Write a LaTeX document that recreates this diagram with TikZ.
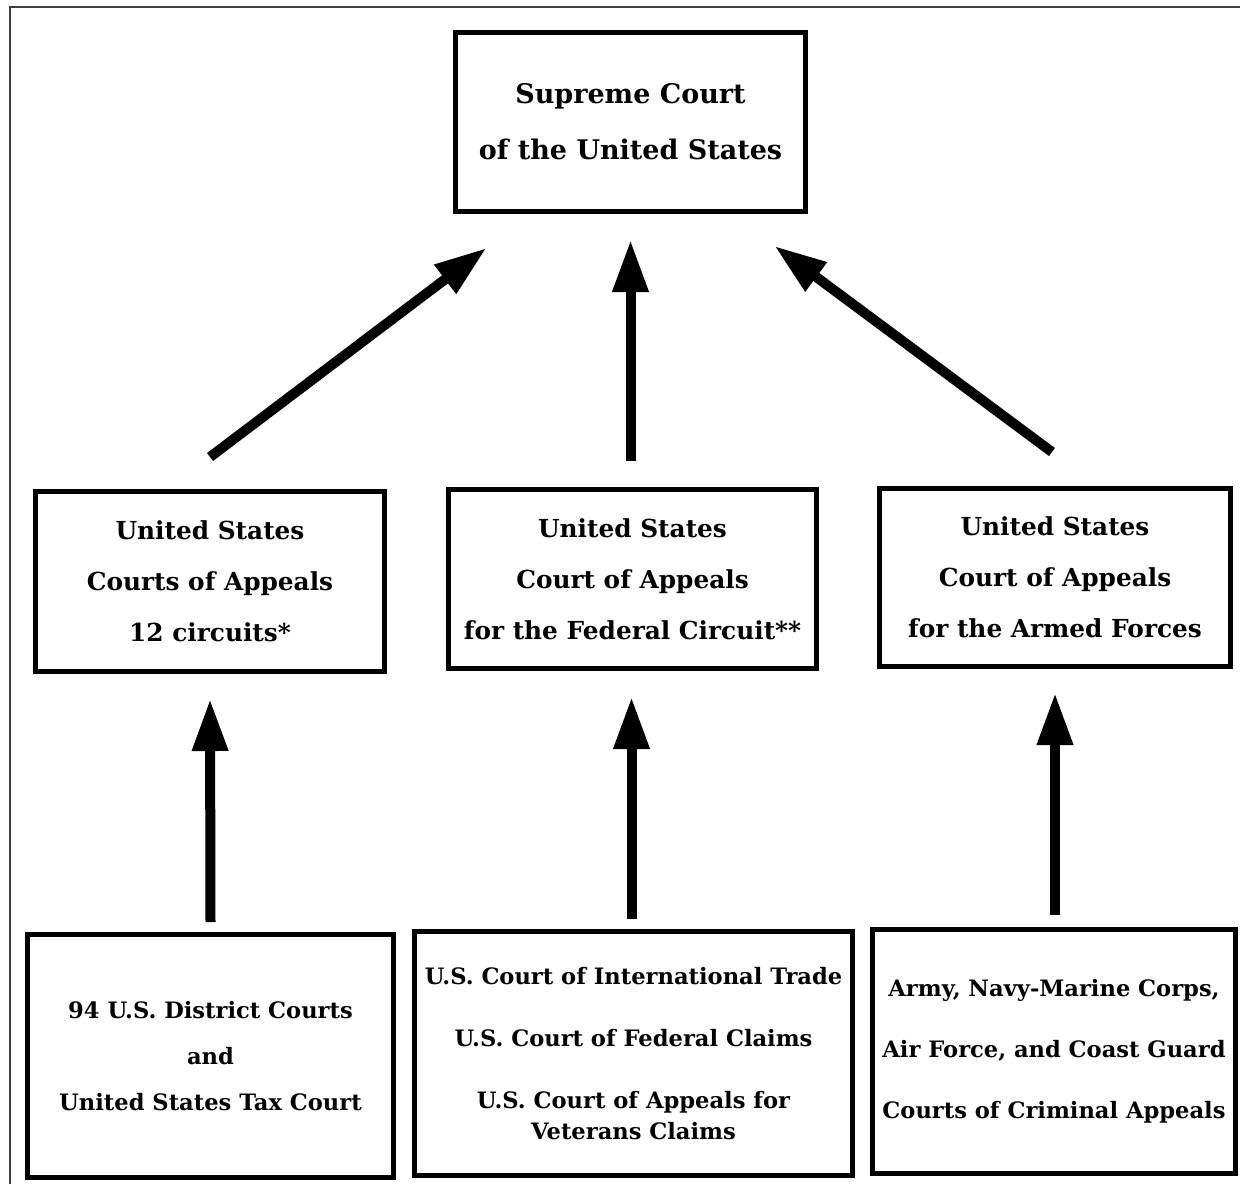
\documentclass[tikz,border=0pt]{standalone}
\usepackage{fontspec}
\setmainfont{DejaVu Serif}
\usetikzlibrary{arrows.meta}
\tikzstyle{arrow} = [line width=5pt,-{Triangle[length=26pt,width=17pt]}]
\tikzstyle{court} = [draw, line width=2.5pt, align=center, inner sep=0pt]

\begin{document}
\begin{tikzpicture}[x=0.5pt, y=-0.5pt]
        \useasboundingbox (0,0) rectangle (1240,1184);
        \draw[line width=0.8pt, black!75] (10,1184) -- (10,7) -- (1240,7);

        % top
        \node at (630.5,122) [court, minimum width=175pt, minimum height=89.5pt, font=\bfseries\fontsize{13.5}{28}\selectfont](supreme) {Supreme Court\\of the United States};

        % appeals
        \node at (210,581.5) [court, minimum width=174.5pt, minimum height=90pt, font=\bfseries\fontsize{12.4}{25.5}\selectfont](circuits) {United States\\Courts of Appeals\\12 circuits*};
        \node at (632.5,579) [court, minimum width=184pt, minimum height=89.5pt, font=\bfseries\fontsize{12.4}{25.5}\selectfont](federal) {United States\\Court of Appeals\\for the Federal Circuit**};
        \node at (1055,577.5) [court, minimum width=175.5pt, minimum height=89pt, font=\bfseries\fontsize{12.4}{25.5}\selectfont](armed) {United States\\Court of Appeals\\for the Armed Forces};

        % trial courts
        \node at (210.5,1056) [court, minimum width=183pt, minimum height=121.5pt, font=\bfseries\fontsize{11.3}{23}\selectfont](district) {94 U.S. District Courts\\and\\United States Tax Court};
        \node at (633.5,1053.5) [court, minimum width=219pt, minimum height=122pt, font=\bfseries\fontsize{11.3}{15.5}\selectfont](trade) {U.S. Court of International Trade\\[15.5pt]U.S. Court of Federal Claims\\[15.5pt]U.S. Court of Appeals for\\Veterans Claims};
        \node at (1054,1051.5) [court, minimum width=181.5pt, minimum height=122pt, font=\bfseries\fontsize{11.3}{30.5}\selectfont](military) {Army, Navy-Marine Corps,\\Air Force, and Coast Guard\\Courts of Criminal Appeals};

        \draw[arrow] ([yshift=16pt]circuits.north) -- ([xshift=-72pt,yshift=-17pt]supreme.south);
        \draw[arrow] ([xshift=-1pt,yshift=13pt]federal.north) -- ([yshift=-13pt]supreme.south);
        \draw[arrow] ([xshift=-1.5pt,yshift=17pt]armed.north) -- ([xshift=72pt,yshift=-16pt]supreme.south);

        \draw[arrow] ([yshift=5pt]district.north) -- ([yshift=-12.5pt]circuits.south);
        \draw[arrow] ([xshift=-1pt,yshift=5pt]trade.north) -- ([xshift=-0.5pt,yshift=-13pt]federal.south);
        \draw[arrow] ([xshift=0.5pt,yshift=6pt]military.north) -- ([yshift=-12pt]armed.south);

    \end{tikzpicture}
\end{document}
